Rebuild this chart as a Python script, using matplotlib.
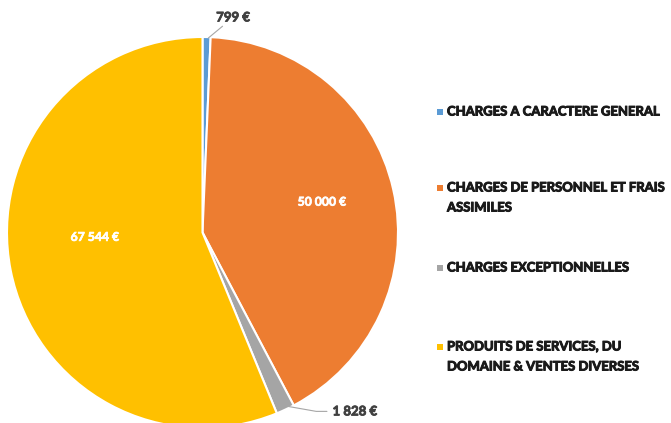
import matplotlib
matplotlib.use("Agg")
import matplotlib.pyplot as plt
import matplotlib.patheffects as pe
from matplotlib.patches import Rectangle

categories = ["CHARGES A CARACTERE GENERAL",
              "CHARGES DE PERSONNEL ET FRAIS\nASSIMILES",
              "CHARGES EXCEPTIONNELLES",
              "PRODUITS DE SERVICES, DU\nDOMAINE & VENTES DIVERSES"]
values = [799, 50000, 1828, 67544]
value_labels = ["799 €", "50 000 €", "1 828 €", "67 544 €"]
colors = ["#5B9BD5", "#ED7D31", "#A5A5A5", "#FFC000"]

FONT = ["Lato", "DejaVu Sans"]
W, H = 671, 423
fig = plt.figure(figsize=(W / 100, H / 100), dpi=100)


def heavy(color, w=0.6):
    return [pe.withStroke(linewidth=w, foreground=color)]


cx, cy, r = 202.5, 232.5, 195.5
ax = fig.add_axes([(cx - r) / W, (H - cy - r) / H, 2 * r / W, 2 * r / H])

wedges, _ = ax.pie(values, colors=colors, startangle=90, counterclock=False,
                   radius=1, wedgeprops=dict(edgecolor="white", linewidth=1.5))
ax.set_xlim(-1, 1)
ax.set_ylim(-1, 1)
ax.set_aspect("equal")
ax.axis("off")

# inside labels
ax.text(0.61, 0.155, value_labels[1], color="white", fontsize=8.8, fontweight="bold",
        family=FONT, ha="center", va="center", path_effects=heavy("white", 0.5))
ax.text(-0.55, -0.025, value_labels[3], color="white", fontsize=8.8, fontweight="bold",
        family=FONT, ha="center", va="center", path_effects=heavy("white", 0.5))

# outside labels with leader lines
ax.annotate(value_labels[0], xy=(0.03, 0.995), xytext=(0.07, 1.10),
            color="#404040", fontsize=9.5, fontweight="bold", family=FONT,
            ha="left", va="center", annotation_clip=False,
            path_effects=heavy("#404040"),
            arrowprops=dict(arrowstyle="-", color="#A6A6A6", lw=0.8,
                            shrinkA=0, shrinkB=0))
ax.annotate(value_labels[2], xy=(0.44, -0.89), xytext=(0.665, -0.915),
            color="#404040", fontsize=9.5, fontweight="bold", family=FONT,
            ha="left", va="center", annotation_clip=False,
            path_effects=heavy("#404040"),
            arrowprops=dict(arrowstyle="-", color="#A6A6A6", lw=0.8,
                            shrinkA=2, shrinkB=0,
                            connectionstyle="angle,angleA=0,angleB=170,rad=0"))

# legend
leg_y = [112, 188, 268, 347]
for lab, col, y in zip(categories, colors, leg_y):
    fig.patches.append(Rectangle((437 / W, (H - y - 3) / H), 6 / W, 6 / H,
                                 transform=fig.transFigure, facecolor=col,
                                 edgecolor="none"))
    fig.text(447 / W, (H - y + 6.5) / H, lab, fontsize=9.4, fontweight="bold",
             family=FONT, color="#1a1a1a", ha="left", va="top",
             linespacing=1.8, transform=fig.transFigure,
             path_effects=heavy("#1a1a1a", 0.7))

fig.savefig("out.png", dpi=100)
